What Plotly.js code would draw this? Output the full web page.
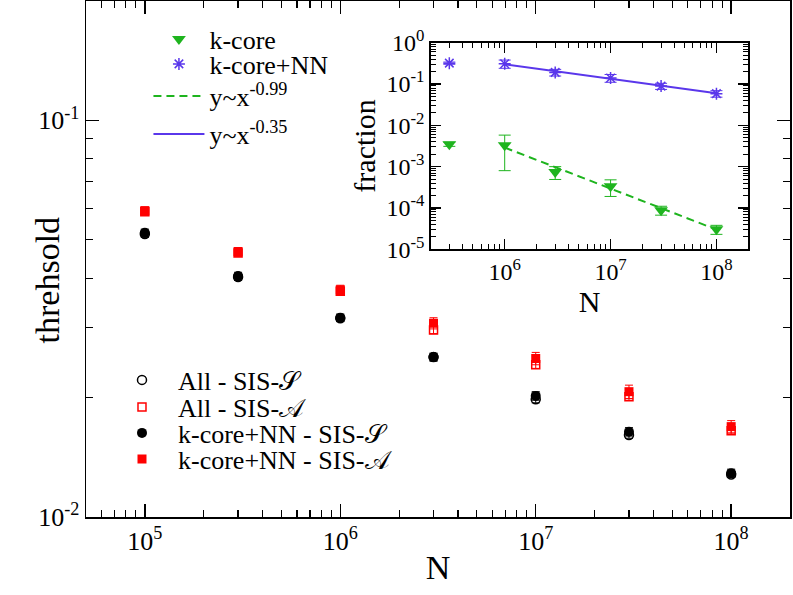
<!DOCTYPE html>
<html><head><meta charset="utf-8">
<script src="https://cdn.plot.ly/plotly-3.0.1.min.js"></script>
<style>body{margin:0;padding:0;background:#fff}</style>
</head><body>
<div id="chart" style="width:793px;height:595px"></div>
<script>
// ---- main plot data ----
const N = [1e5, 3e5, 1e6, 3e6, 1e7, 3e7, 1e8];
const allS   = [0.0517, 0.0403, 0.0317, 0.0253, 0.0198, 0.0161, 0.0128];
const allSErr = [0.0010, 0.0008, 0.0006, 0.0005, 0.0004, 0.0003, 0.0002];
const allA   = [0.0588, 0.0463, 0.0371, 0.0296, 0.0242, 0.0201, 0.0165];
const allAErr = [0.0012, 0.0009, 0.0007, 0.0006, 0.0005, 0.0004, 0.0003];
const kS     = [0.0521, 0.0405, 0.0318, 0.0253, 0.0202, 0.0164, 0.0129];
const kSErr  = [0.0011, 0.0009, 0.0007, 0.0006, 0.0005, 0.0004, 0.0003];
const kA     = [0.0592, 0.0467, 0.0374, 0.0308, 0.0251, 0.0207, 0.0169];
const kAErr  = [0.0013, 0.0011, 0.0010, 0.0010, 0.0009, 0.0008, 0.0006];

// ---- inset data ----
const Nin = [3e5, 1e6, 3e6, 1e7, 3e7, 1e8];
const fracK   = [0.0035, 0.0033, 0.000745, 0.000335, 0.0000885, 0.0000305];
const fracKErr = [0.0004, 0.0025, 0.000255, 0.000145, 0.0000215, 0.0000075];
const fracKNN = [0.32, 0.31, 0.191, 0.14, 0.089, 0.0585];
const fracKNNErr = [0.02, 0.07, 0.035, 0.03, 0.015, 0.0105];
const fitN = [1e6, 1e8];
const fitK = [0.0029, 0.000030];
const fitKNN = [0.30, 0.060];

// ---- tick labels ----
const mainXTicks = [1e5, 1e6, 1e7, 1e8];
const mainXText = ['10<sup>5</sup>', '10<sup>6</sup>', '10<sup>7</sup>', '10<sup>8</sup>'];
const mainYTicks = [0.01, 0.1];
const mainYText = ['10<sup>-2</sup>', '10<sup>-1</sup>'];
const inXTicks = [1e6, 1e7, 1e8];
const inXText = ['10<sup>6</sup>', '10<sup>7</sup>', '10<sup>8</sup>'];
const inYTicks = [1e-5, 1e-4, 1e-3, 1e-2, 1e-1, 1];
const inYText = ['10<sup>-5</sup>', '10<sup>-4</sup>', '10<sup>-3</sup>', '10<sup>-2</sup>', '10<sup>-1</sup>', '10<sup>0</sup>'];

const GREEN = 'rgb(30,180,30)';
const PURPLE = 'rgb(90,55,235)';
const SERIF = '"Liberation Serif"';

function eb(arr, color) {
  return {type: 'data', array: arr, visible: true, color: color, thickness: 1, width: 4};
}

const traces = [
  {x: N, y: allS, name: 'All - SIS-𝒮', mode: 'markers', type: 'scatter',
   marker: {symbol: 'circle-open', size: 9, color: 'black', line: {width: 1.5, color: 'black'}},
   error_y: eb(allSErr, 'black'), legend: 'legend'},
  {x: N, y: allA, name: 'All - SIS-𝒜', mode: 'markers', type: 'scatter',
   marker: {symbol: 'square-open', size: 8, color: 'red', line: {width: 1.5, color: 'red'}},
   error_y: eb(allAErr, 'red'), legend: 'legend2'},
  {x: N, y: kS, name: 'k-core+NN - SIS-𝒮', mode: 'markers', type: 'scatter',
   marker: {symbol: 'circle', size: 10, color: 'black'},
   error_y: eb(kSErr, 'black'), legend: 'legend3'},
  {x: N, y: kA, name: 'k-core+NN - SIS-𝒜', mode: 'markers', type: 'scatter',
   marker: {symbol: 'square', size: 9, color: 'red'},
   error_y: eb(kAErr, 'red'), legend: 'legend4'},
  {x: Nin, y: fracK, name: 'k-core', mode: 'markers', type: 'scatter', xaxis: 'x2', yaxis: 'y2',
   marker: {symbol: 'triangle-down', size: 12, color: GREEN},
   error_y: {type: 'data', array: fracKErr, visible: true, color: GREEN, thickness: 1, width: 6}, legend: 'legend5'},
  {x: Nin, y: fracKNN, name: 'k-core+NN', mode: 'markers', type: 'scatter', xaxis: 'x2', yaxis: 'y2',
   marker: {symbol: 'asterisk-open', size: 10, color: PURPLE, line: {width: 1.5, color: PURPLE}},
   error_y: {type: 'data', array: fracKNNErr, visible: true, color: PURPLE, thickness: 1, width: 6}, legend: 'legend6'},
  {x: fitN, y: fitK, name: 'y~x<sup>-0.99</sup>', mode: 'lines', type: 'scatter', xaxis: 'x2', yaxis: 'y2',
   line: {color: GREEN, width: 2, dash: '8px,5px'}, legend: 'legend7'},
  {x: fitN, y: fitKNN, name: 'y~x<sup>-0.35</sup>', mode: 'lines', type: 'scatter', xaxis: 'x2', yaxis: 'y2',
   line: {color: PURPLE, width: 2}, legend: 'legend8'}
];

const axBase = {
  type: 'log', showline: true, linecolor: 'black', linewidth: 1.5, mirror: 'allticks',
  ticks: 'inside', tickcolor: 'black', tickwidth: 1.5, showgrid: false, zeroline: false,
  tickmode: 'array'
};

function pyy(px) { return 1 - (px - 1) / 516; }
function leg(xp, ypx, size, iw) {
  return {x: xp, y: pyy(ypx), xanchor: 'left', yanchor: 'middle',
    bgcolor: 'rgba(0,0,0,0)', borderwidth: 0, itemwidth: iw,
    font: {family: SERIF, size: size}, tracegroupgap: 0};
}

const layout = {
  width: 793, height: 595,
  margin: {l: 86, r: 3, t: 1, b: 78},
  paper_bgcolor: 'white', plot_bgcolor: 'white',
  font: {family: SERIF, color: 'black'},
  showlegend: true,
  xaxis: Object.assign({}, axBase, {
    range: [Math.log10(5e4), Math.log10(2e8)], ticklen: 13,
    tickvals: mainXTicks, ticktext: mainXText,
    minor: {ticks: 'inside', ticklen: 7, tickwidth: 1.2, tickcolor: 'black', dtick: 'D1'},
    tickfont: {family: SERIF, size: 26},
    title: {text: 'N', font: {family: SERIF, size: 34}, standoff: 0}
  }),
  yaxis: Object.assign({}, axBase, {
    range: [-2, Math.log10(0.2)], ticklen: 13,
    tickvals: mainYTicks, ticktext: mainYText,
    minor: {ticks: 'inside', ticklen: 7, tickwidth: 1.2, tickcolor: 'black', dtick: 'D1'},
    tickfont: {family: SERIF, size: 26},
    title: {text: ''}
  }),
  xaxis2: Object.assign({}, axBase, {
    domain: [0.4896, 0.9408], anchor: 'y2',
    range: [Math.log10(2e5), Math.log10(2e8)], ticklen: 10,
    tickvals: inXTicks, ticktext: inXText,
    minor: {ticks: 'inside', ticklen: 5, tickwidth: 1, tickcolor: 'black', dtick: 'D1'},
    tickfont: {family: SERIF, size: 24},
    title: {text: 'N', font: {family: SERIF, size: 30}, standoff: 0}
  }),
  yaxis2: Object.assign({}, axBase, {
    domain: [0.5188, 0.9192], anchor: 'x2',
    range: [-5, 0], ticklen: 10,
    tickvals: inYTicks, ticktext: inYText,
    minor: {ticks: 'inside', ticklen: 5, tickwidth: 1, tickcolor: 'black', dtick: 'D1'},
    tickfont: {family: SERIF, size: 24},
    title: {text: 'fraction', font: {family: SERIF, size: 30}, standoff: 2}
  }),
  annotations: [
    {text: 'threhsold', xref: 'paper', yref: 'paper', x: -0.055, y: 0.459,
     xanchor: 'center', yanchor: 'middle', textangle: -90, showarrow: false,
     font: {family: SERIF, size: 34}}
  ],
  legend:  leg(0.0284, 380, 26, 62),
  legend2: leg(0.0284, 407, 26, 62),
  legend3: leg(0.0284, 433, 26, 62),
  legend4: leg(0.0284, 459, 26, 62),
  legend5: leg(0.0887, 39, 26, 51),
  legend6: leg(0.0887, 64, 26, 51),
  legend7: leg(0.0887, 96, 26, 51),
  legend8: leg(0.0887, 134, 26, 51)
};

Plotly.newPlot('chart', traces, layout, {displayModeBar: false, staticPlot: true});
</script>
</body></html>
